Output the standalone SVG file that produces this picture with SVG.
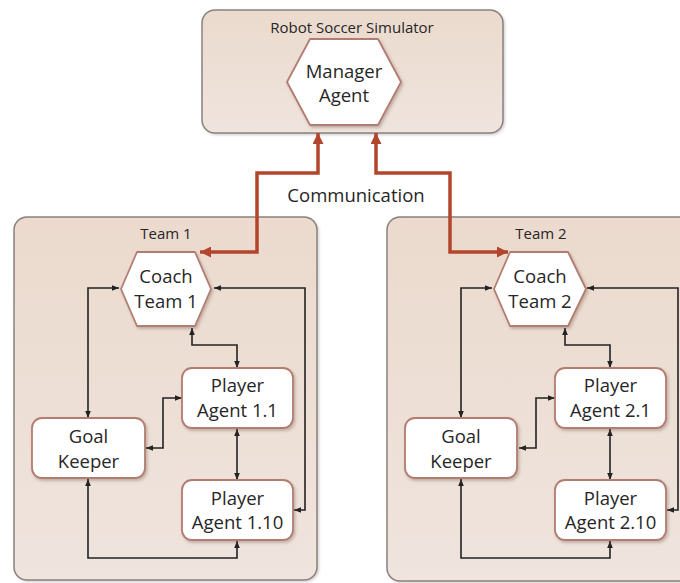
<svg xmlns="http://www.w3.org/2000/svg" width="680" height="583" viewBox="0 0 680 583">
  <defs>
    <linearGradient id="bg" x1="0" y1="0" x2="0" y2="1">
      <stop offset="0" stop-color="#ebdacd"/>
      <stop offset="1" stop-color="#efe4de"/>
    </linearGradient>
    <filter id="sh" x="-10%" y="-10%" width="130%" height="130%">
      <feDropShadow dx="1.5" dy="2" stdDeviation="1.5" flood-color="#6b5045" flood-opacity="0.35"/>
    </filter>
    <filter id="bsh" x="-5%" y="-5%" width="110%" height="110%">
      <feDropShadow dx="1.5" dy="1.5" stdDeviation="1.2" flood-color="#7a6e69" flood-opacity="0.3"/>
    </filter>
    <marker id="ah" viewBox="0 0 10 10" refX="10" refY="5" markerWidth="7" markerHeight="7" markerUnits="userSpaceOnUse" orient="auto-start-reverse">
      <path d="M0,1 L10,5 L0,9 z" fill="#222"/>
    </marker>
    <marker id="rh" viewBox="0 0 10 10" refX="10" refY="5" markerWidth="12" markerHeight="11" markerUnits="userSpaceOnUse" orient="auto-start-reverse">
      <path d="M0,0 L10,5 L0,10 z" fill="#b2452c"/>
    </marker>
  </defs>
  <style>
    .box { fill: url(#bg); stroke: #8a817d; stroke-width: 1.5; filter: url(#bsh); }
    .node { fill: #ffffff; stroke: #b27d6f; stroke-width: 1.8; stroke-linejoin: round; filter: url(#sh); }
    .lbl { font-family: "Open Sans", "Liberation Sans", sans-serif; font-size: 18.5px; fill: #262626; text-anchor: middle; }
    .ttl { font-size: 15px; }
    .link { fill: none; stroke: #222222; stroke-width: 1.6; marker-start: url(#ah); marker-end: url(#ah); }
    .comm { fill: none; stroke: #b2452c; stroke-width: 3.5; stroke-linejoin: miter; marker-start: url(#rh); marker-end: url(#rh); }
  </style>

  <!-- containers -->
  <g id="simulator">
    <rect class="box" x="202" y="10" width="301" height="123" rx="13"/>
    <text class="lbl ttl" x="352" y="33">Robot Soccer Simulator</text>
  </g>
  <g id="team1">
    <rect class="box" x="14" y="217" width="303" height="363" rx="13"/>
    <text class="lbl ttl" x="166" y="239">Team 1</text>
  </g>
  <g id="team2">
    <rect class="box" x="387" y="217" width="310" height="364" rx="13"/>
    <text class="lbl ttl" x="541" y="239">Team 2</text>
  </g>

  <!-- connectors -->
  <g id="connectors">
    <path class="comm" d="M318,133 V173 H257 V252 H200"/>
    <path class="comm" d="M376,133 V173 H450 V252 H508"/>

    <!-- team 1 -->
    <path class="link" d="M119,288 H88 V418"/>
    <path class="link" d="M214,288 H305 V510 H294"/>
    <path class="link" d="M192,328 V345 H237 V368"/>
    <path class="link" d="M146,448 H163 V398 H182"/>
    <path class="link" d="M237,429 V480"/>
    <path class="link" d="M88,479 V558 H237 V541"/>

    <!-- team 2 -->
    <path class="link" d="M492,288 H461 V418"/>
    <path class="link" d="M587,288 H678 V510 H667"/>
    <path class="link" d="M565,328 V345 H610 V368"/>
    <path class="link" d="M519,448 H536 V398 H555"/>
    <path class="link" d="M610,429 V480"/>
    <path class="link" d="M461,479 V558 H610 V541"/>
  </g>

  <text class="lbl" x="356" y="202">Communication</text>

  <!-- agents -->
  <g id="manager">
    <polygon class="node" points="287,82 310,39 378,39 401,82 378,125 310,125"/>
    <text class="lbl" x="344" y="78">Manager</text>
    <text class="lbl" x="344" y="102">Agent</text>
  </g>

  <g id="coach1">
    <polygon class="node" points="121,289 137,252 195,252 211,289 195,326 137,326"/>
    <text class="lbl" x="166" y="283">Coach</text>
    <text class="lbl" x="166" y="308">Team 1</text>
  </g>
  <g id="goalkeeper1">
    <rect class="node" x="32" y="418" width="113" height="60" rx="10"/>
    <text class="lbl" x="88.5" y="443">Goal</text>
    <text class="lbl" x="88.5" y="468">Keeper</text>
  </g>
  <g id="player1-1">
    <rect class="node" x="182" y="368" width="111" height="60" rx="10"/>
    <text class="lbl" x="237.5" y="392">Player</text>
    <text class="lbl" x="237.5" y="417">Agent 1.1</text>
  </g>
  <g id="player1-10">
    <rect class="node" x="182" y="480" width="111" height="60" rx="10"/>
    <text class="lbl" x="237.5" y="505">Player</text>
    <text class="lbl" x="237.5" y="529">Agent 1.10</text>
  </g>

  <g id="coach2">
    <polygon class="node" points="494,289 510,252 568,252 586,289 568,326 510,326"/>
    <text class="lbl" x="540" y="283">Coach</text>
    <text class="lbl" x="540" y="308">Team 2</text>
  </g>
  <g id="goalkeeper2">
    <rect class="node" x="405" y="418" width="112" height="60" rx="10"/>
    <text class="lbl" x="461" y="443">Goal</text>
    <text class="lbl" x="461" y="468">Keeper</text>
  </g>
  <g id="player2-1">
    <rect class="node" x="555" y="368" width="111" height="60" rx="10"/>
    <text class="lbl" x="610.5" y="392">Player</text>
    <text class="lbl" x="610.5" y="417">Agent 2.1</text>
  </g>
  <g id="player2-10">
    <rect class="node" x="555" y="480" width="111" height="60" rx="10"/>
    <text class="lbl" x="610.5" y="505">Player</text>
    <text class="lbl" x="610.5" y="529">Agent 2.10</text>
  </g>
</svg>
